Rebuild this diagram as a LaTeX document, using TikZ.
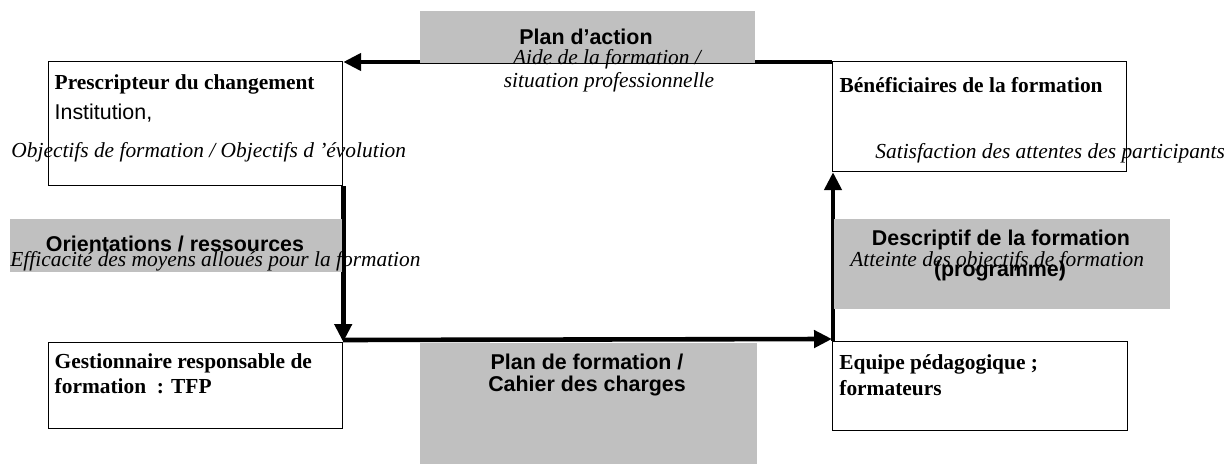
\documentclass[tikz,border=0pt]{standalone}
\usepackage{fontspec}
\setmainfont{Liberation Serif}
\setsansfont{Liberation Sans}
\usetikzlibrary{arrows.meta}
\definecolor{panel}{HTML}{C0C0C0}
\newcommand{\txtsize}{\fontsize{10.7}{12.8}\selectfont}
\tikzset{
  actor/.style={draw=black, line width=0.6pt, rectangle, inner sep=0pt, anchor=north west},
  band/.style={fill=panel, rectangle, inner sep=0pt, anchor=north west},
  flow/.style={line width=2.3pt, -{Triangle[length=9pt,width=8.5pt]}},
  title/.style={font=\txtsize\bfseries, inner sep=0pt, anchor=base west},
  plain/.style={font=\txtsize\sffamily, inner sep=0pt, anchor=base west},
  note/.style={font=\txtsize\itshape, inner sep=0pt, anchor=base west},
  head/.style={font=\txtsize\sffamily\bfseries, inner sep=0pt, anchor=base},
}
\begin{document}
\begin{tikzpicture}[x=0.5pt, y=-0.5pt]
\useasboundingbox (0,0) rectangle (1224,464);

% the four actors
\node[actor, minimum width=147pt, minimum height=62pt] (presc) at (48,61) {};
\node[actor, minimum width=147pt, minimum height=55pt] (benef) at (832,61) {};
\node[actor, minimum width=147pt, minimum height=43pt] (gest) at (48,342) {};
\node[actor, minimum width=147.5pt, minimum height=44.5pt] (equipe) at (832,341) {};

% the cycle of flows
\draw[flow] ([yshift=-0.5pt]benef.north west) -- ([yshift=-0.5pt]presc.north east);
\draw[flow] (presc.south east) -- (gest.north east);
\draw[flow] ([yshift=1pt]gest.north east) -- ([yshift=1pt]equipe.north west);
\draw[flow] ([xshift=0.5pt]equipe.north west) -- ([xshift=0.5pt]benef.south west);

% grey panels over the flows
\node[band, minimum width=167.5pt, minimum height=25.8pt] (pa) at (420,11) {};
\node[band, minimum width=166pt, minimum height=26.5pt] (or) at (10,219) {};
\node[band, minimum width=168pt, minimum height=45pt] (de) at (833.5,219) {};
\node[band, minimum width=168.5pt, minimum height=60.5pt] (pf) at (420,342.7) {};

% panel titles
\node[head] (paT) at (586,44.5) {Plan d’action};
\node[head] (orT) at (175,251.7) {Orientations / ressources};
\node[head] (deT1) at (1001,246) {Descriptif de la formation};
\node[head] (deT2) at (1000,277) {(programme)};
\node[head] (pfT1) at (587,369) {Plan de formation /};
\node[head] (pfT2) at (587,391) {Cahier des charges};

% actor texts
\node[title] (prescT) at (54.3,89.5) {Prescripteur du changement};
\node[plain] (prescI) at (54.3,120) {Institution,};
\node[title] (benefT) at (839.3,93) {Bénéficiaires de la formation};
\node[title] (gestT1) at (54.3,368.5) {Gestionnaire responsable de};
\node[title] (gestT2) at (54.3,393) {formation~~: TFP};
\node[title] (eqT1) at (839,369.5) {Equipe pédagogique ;};
\node[title] (eqT2) at (839,395.5) {formateurs};

% evaluation notes
\node[note, anchor=base] (n1) at (607,65) {Aide de la formation /};
\node[note, anchor=base] (n2) at (609,88) {situation professionnelle};
\node[note] (n3) at (11,157.5) {Objectifs de formation / Objectifs d ’évolution};
\node[note] (n4) at (875,158.5) {Satisfaction des attentes des participants};
\node[note] (n5) at (10,266.7) {Efficacité des moyens alloués pour la formation};
\node[note] (n6) at (850,266.7) {Atteinte des objectifs de formation};
\end{tikzpicture}
\end{document}
